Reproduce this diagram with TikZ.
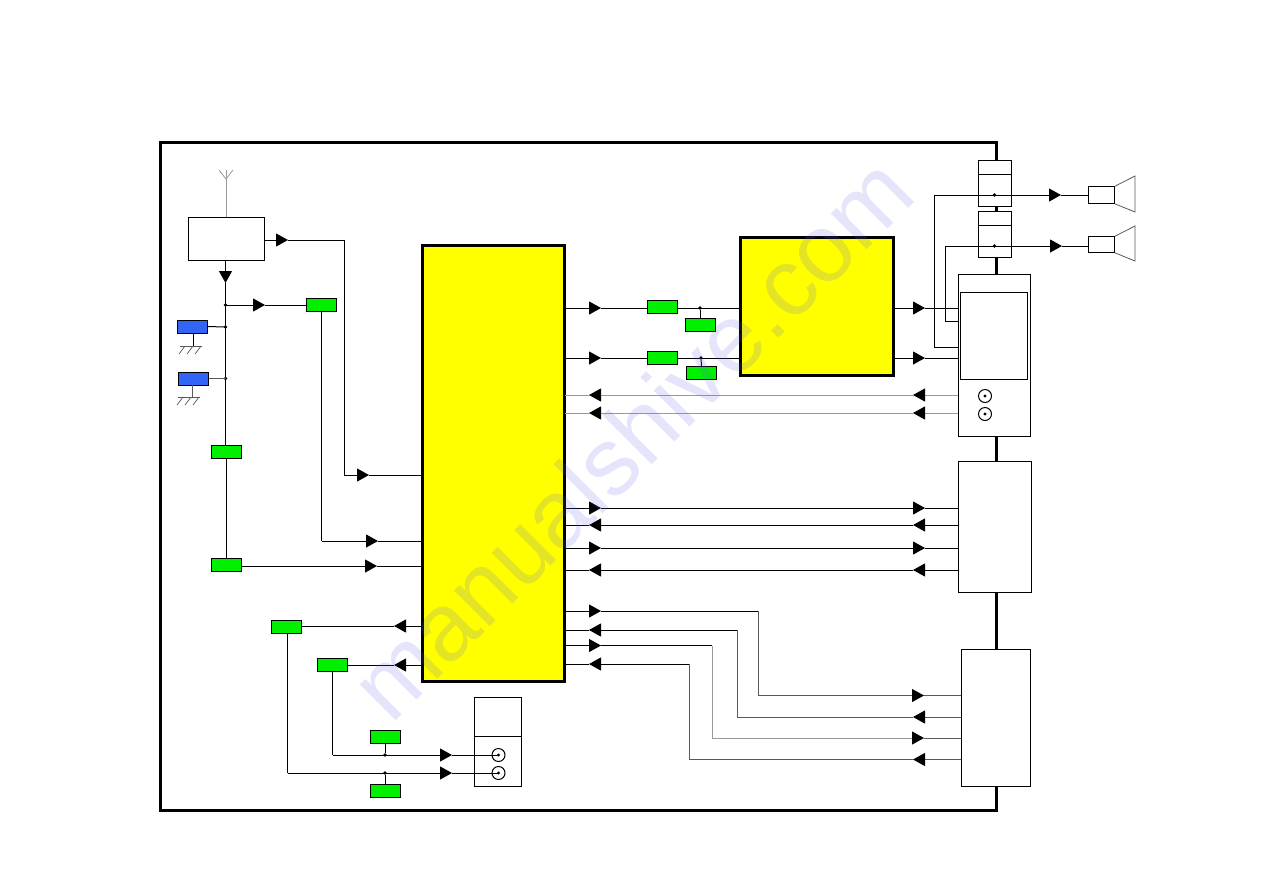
\documentclass[tikz,border=0pt]{standalone}
\usepackage{fontspec}
\setmainfont{Liberation Sans}
\usetikzlibrary{arrows.meta}
\definecolor{blockyellow}{RGB}{255,255,0}
\definecolor{partgreen}{RGB}{0,240,0}
\definecolor{partblue}{RGB}{50,100,245}
\definecolor{markblue}{RGB}{100,100,230}
\tikzset{
  x=1pt,y=-1pt,
  wire/.style={line width=1pt,black},
  graywire/.style={line width=1pt,black!40},
  midwire/.style={line width=1pt,black!65},
  tipped/.style={-{Triangle[length=12pt,width=13pt]}},
  blacktip/.style={-{Triangle[length=12pt,width=13pt,black]}},
  box/.style={draw=black,line width=1pt,fill=white,inner sep=0pt,outer sep=0pt},
  thickbox/.style={draw=black,line width=3pt,fill=blockyellow,inner sep=0pt,outer sep=0pt},
  greenbox/.style={draw=black,line width=1pt,fill=partgreen,inner sep=0pt,outer sep=0pt,minimum width=30pt,minimum height=13pt},
  bluebox/.style={draw=black,line width=1pt,fill=partblue,inner sep=0pt,outer sep=0pt,minimum width=30pt,minimum height=13pt},
  junction/.style={circle,fill=black,inner sep=0pt,minimum size=3.6pt},
  jack/.style={circle,draw=black,line width=1pt,fill=white,inner sep=0pt,minimum size=13pt},
}
% Box placed by its corners: \pbox[style]{name}{x1}{y1}{x2}{y2}
\newcommand{\pbox}[6][box]{\node[#1,anchor=north west,minimum width=#5pt-#3pt-0.5pt,minimum height=#6pt-#4pt-0.5pt] (#2) at (#3+0.3,#4+0.3) {};}
% Jack socket with a centre point
\newcommand{\jacksocket}[3]{\node[jack] (#1) at (#2,#3) {}; \fill (#1.center) circle (1.6pt);}
% Ground symbol hanging from a point
\newcommand{\gnd}[4]{%
  \coordinate (#1) at (#2,#3);
  \draw[#4] (#1) ++(-13,0) -- ++(22,0);
  \foreach \d in {-8,0,8} \draw[#4,line width=.7pt] (#1) ++(\d-5,0) ++(5,0) -- ++(-6,8);
}
\begin{document}
\begin{tikzpicture}
\useasboundingbox (0,0) rectangle (1263,884);
\fill[white] (0,0) rectangle (1263,884);

% Chassis outline
\draw[line width=3pt] (160,142) rectangle (996.5,810);

% Main processing blocks
\pbox[thickbox]{main}{422}{245}{565}{682}
\pbox[thickbox]{amp}{740}{237}{894}{376}

% Tuner and antenna
\pbox{tuner}{188}{217}{265}{261}
\coordinate (antbase) at (226,217);
\coordinate (anttop) at (226,170);
\coordinate (antfork) at (226,179);
\draw[graywire] (tuner.north -| antbase) -- (anttop);
\draw[graywire,line width=.8pt] (antfork) -- (219,170) (antfork) -- (233,170);

% Filter and series elements
\node[greenbox] (g1) at (321.5,305) {};
\node[greenbox] (g2) at (226,451.5) {};
\node[greenbox] (g3) at (226,564.5) {};
\node[greenbox] (g4) at (286.5,627) {};
\node[greenbox] (g5) at (332.5,665) {};
\node[greenbox] (g6) at (385,737) {};
\node[greenbox] (g7) at (385,791) {};
\node[greenbox] (g8) at (662.5,307) {};
\node[greenbox] (g9) at (700,324.5) {};
\node[greenbox] (g10) at (662.5,358) {};
\node[greenbox] (g11) at (701.5,373) {};
\node[bluebox] (b1) at (192.5,326.5) {};
\node[bluebox] (b2) at (193.5,378.5) {};

% Tuner outputs
\coordinate (t1) at (288,240);
\coordinate (t2) at (344,240);
\coordinate (t3) at (344,475);
\coordinate (t4) at (369,475);
\draw[wire,tipped] (265,240) -- (t1);
\draw[wire] (t1) -- (t2) -- (t3);
\draw[wire,tipped] (t3) -- (t4);
\draw[wire] (t4) -- (t4 -| main.west);

\coordinate (d0) at (225.5,283);
\coordinate (d1) at (225.5,305);
\coordinate (d2) at (225.5,327);
\coordinate (d3) at (225.5,378.5);
\draw[wire,tipped] (225.5,261) -- (d0);
\draw[wire] (d0) -- (225.5,445);
\draw[wire] (g2.south) -- (g3.north);
\node[junction] at (d1) {};
\node[junction] at (d2) {};
\node[junction] at (d3) {};
\coordinate (a1) at (265,305);
\draw[wire,tipped] (d1) -- (a1);
\draw[wire] (a1) -- (g1.west);
\draw[wire] (b1.east) -- (d2);
\draw[midwire] (b2.east) -- (d3);

% Ground symbols
\draw[wire] (193.5,333) -- (193.5,346);
\draw[midwire] (192.5,385) -- (192.5,397);
\gnd{gn1}{193}{346}{midwire}
\gnd{gn2}{191}{397}{midwire}

% Feeds into the main block
\coordinate (c1) at (321.5,541);
\coordinate (c2) at (378,541);
\draw[wire] (g1.south) -- (c1);
\draw[wire,tipped] (c1) -- (c2);
\draw[wire] (c2) -- (c2 -| main.west);
\coordinate (c3) at (377,566);
\draw[wire,tipped] (241,566) -- (c3);
\draw[wire] (c3) -- (c3 -| main.west);

% Outputs towards the lower-left jacks
\coordinate (e1) at (394,626);
\coordinate (e2) at (394,665);
\draw[wire,tipped] (main.west |- e1) -- (e1);
\draw[wire] (e1) -- (301.5,626);
\draw[wire,tipped] (main.west |- e2) -- (e2);
\draw[wire] (e2) -- (g5.east);

% Lower jack block
\pbox{jackblock}{474}{697}{522}{787}
\draw[wire] (474,736) -- (522,736);
\jacksocket{j1}{498.5}{755}
\jacksocket{j2}{498.5}{773}
\coordinate (f1) at (332.5,755);
\coordinate (f2) at (287.5,773);
\coordinate (f3) at (452,755);
\coordinate (f4) at (452,773);
\draw[wire] (g5.south) -- (f1);
\draw[wire,tipped] (f1) -- (f3);
\draw[wire] (f3) -- (j1.center);
\draw[wire] (287.5,634) -- (f2);
\draw[wire,tipped] (f2) -- (f4);
\draw[wire] (f4) -- (j2.center);
\node[junction] (jn1) at (385,755) {};
\node[junction] (jn2) at (385,773) {};
\draw[wire] (g6.south) -- (jn1);
\draw[wire] (g7.north) -- (jn2);

% Right-hand connector blocks
\pbox{avbox}{958}{274}{1031}{437}
\pbox{avscreen}{960}{292}{1028}{380}
\jacksocket{j3}{985}{396}
\jacksocket{j4}{985}{414}
\pbox{midbox}{958}{461}{1032}{593}
\pbox{lowbox}{961}{649}{1031}{787}
\pbox{spk1}{978}{160}{1012}{207}
\pbox{spk2}{978}{211}{1012}{258}
\draw[wire] (978,174) -- (1012,174);
\draw[wire] (978,225) -- (1012,225);

% Main block to amplifier
\coordinate (h1) at (601,308);
\coordinate (h2) at (601,358);
\draw[wire,tipped] (main.east |- h1) -- (h1);
\draw[wire] (h1) -- (g8.west |- h1);
\draw[wire] (g8.east |- h1) -- (amp.west |- h1);
\draw[wire,tipped] (main.east |- h2) -- (h2);
\draw[wire] (h2) -- (g10.west);
\draw[wire] (g10.east) -- (amp.west |- h2);
\node[junction] (jn3) at (700,308) {};
\node[junction] (jn4) at (701,358) {};
\draw[wire] (g9.north) -- (jn3);
\draw[wire] (g11.north) -- (jn4);

% Amplifier to output block
\coordinate (k1) at (925,308);
\coordinate (k2) at (925,358);
\draw[wire,tipped] (amp.east |- k1) -- (k1);
\draw[wire] (k1) -- (avbox.west |- k1);
\draw[wire,tipped] (amp.east |- k2) -- (k2);
\draw[wire] (k2) -- (avbox.west |- k2);

% Return paths from the output block
\foreach \yy in {395,413}{
  \draw[graywire,blacktip] (958,\yy) -- (913,\yy);
  \draw[graywire,blacktip] (913,\yy) -- (589,\yy);
  \draw[graywire] (589,\yy) -- (565,\yy);
}

% Speaker lines
\coordinate (s1) at (1061,195);
\coordinate (s2) at (1062,246);
\draw[wire] (avbox.west |- 0,347) -- (934,347) -- (934,195) -- (1049,195);
\draw[wire,tipped] (1040,195) -- (s1);
\draw[wire] (s1) -- (1088,195);
\draw[wire] (avbox.west |- 0,321) -- (945,321) -- (945,246) -- (1050,246);
\draw[wire,tipped] (1040,246) -- (s2);
\draw[wire] (s2) -- (1088,246);
\node[junction] at (994.5,195) {};
\node[junction] at (994.5,246) {};
\pbox{drv1}{1088}{186}{1115}{204}
\pbox{drv2}{1088}{236}{1115}{253}
\draw[midwire,line width=.8pt] (drv1.north east) -- (1135,176) -- (1135,212) -- (drv1.south east);
\draw[midwire,line width=.8pt] (drv2.north east) -- (1135,226) -- (1135,261) -- (drv2.south east);

% Straight buses between the main block and the middle block
\foreach \yy/\dir in {508/r,525/l,548/r,570/l}{
  \if\dir r
    \draw[wire,tipped] (565,\yy) -- (601,\yy);
    \draw[wire,tipped] (601,\yy) -- (925,\yy);
    \draw[wire] (925,\yy) -- (958,\yy);
  \else
    \draw[wire,tipped] (958,\yy) -- (913,\yy);
    \draw[wire,tipped] (913,\yy) -- (589,\yy);
    \draw[wire] (589,\yy) -- (565,\yy);
  \fi
}

% Stepped buses between the main block and the lower block
\coordinate (m1) at (601,611);
\draw[wire,tipped] (565,611) -- (m1);
\draw[wire] (m1) -- (758,611);
\draw[midwire] (758,611) -- (758,695.5) -- (912,695.5);
\draw[midwire,blacktip] (912,695.5) -- (924,695.5);
\draw[midwire] (924,695.5) -- (961,695.5);

\coordinate (m2) at (589,630);
\draw[midwire] (961,717) -- (925,717);
\draw[midwire,blacktip] (925,717) -- (913,717);
\draw[midwire] (913,717) -- (737,717) -- (737,630);
\draw[wire,tipped] (737,630) -- (m2);
\draw[wire] (m2) -- (565,630);

\coordinate (m3) at (601,645.5);
\draw[wire,tipped] (565,645.5) -- (m3);
\draw[wire] (m3) -- (712,645.5);
\draw[graywire] (712,645.5) -- (712,738) -- (912,738);
\draw[midwire,blacktip] (912,738) -- (924,738);
\draw[midwire] (924,738) -- (961,738);

\coordinate (m4) at (589,664);
\draw[midwire] (961,759.5) -- (925,759.5);
\draw[midwire,blacktip] (925,759.5) -- (913,759.5);
\draw[midwire] (913,759.5) -- (689,759.5) -- (689,664);
\draw[wire,tipped] (689,664) -- (m4);
\draw[wire] (m4) -- (565,664);

% Faint diagonal overprint
\node[rotate=45,anchor=base west,inner sep=0pt,text=markblue,text opacity=.17,font=\fontsize{96}{96}\selectfont] (overprint) at (391,726) {manualshive.com};
\end{tikzpicture}
\end{document}
